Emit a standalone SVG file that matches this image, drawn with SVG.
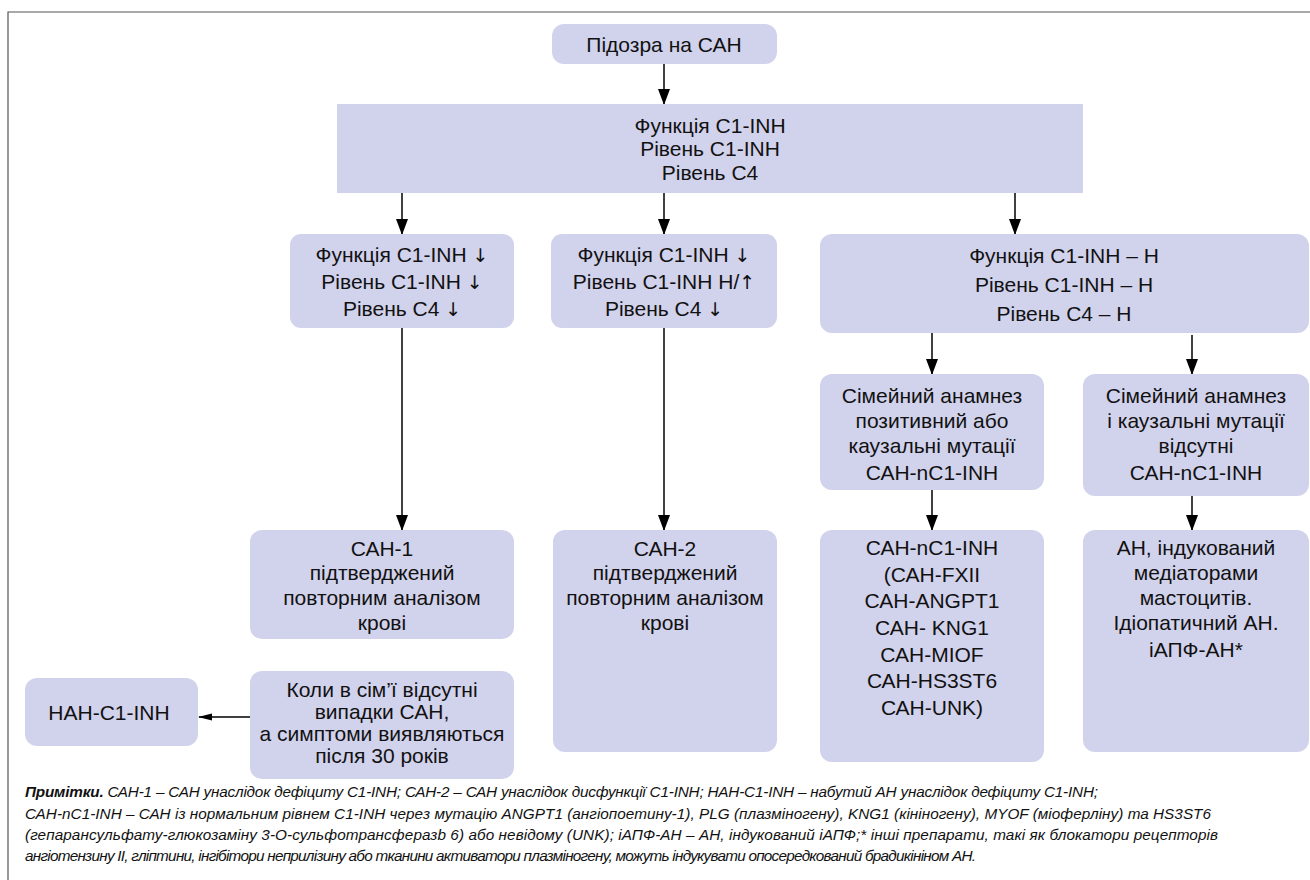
<svg xmlns="http://www.w3.org/2000/svg" width="1310" height="880" viewBox="0 0 1310 880">
<defs>
<style>
.box{fill:#D1D2EC;stroke:none}
.t{font-family:"Liberation Sans","Noto Sans",Arial,sans-serif;font-size:21px;fill:#111;text-anchor:middle}
.ar{font-family:"DejaVu Sans",sans-serif;font-size:19px;fill:#111}
.n{font-family:"Liberation Sans","Noto Sans",Arial,sans-serif;font-size:15.3px;font-style:italic;fill:#111}
.c{stroke:#000;stroke-width:1.5;fill:none}
</style>
<marker id="ah" markerUnits="userSpaceOnUse" markerWidth="16" markerHeight="12" refX="15" refY="6" orient="auto">
<path d="M0,0 L16,6 L0,12 z" fill="#000"/>
</marker>
<marker id="ahs" markerUnits="userSpaceOnUse" markerWidth="14" markerHeight="8" refX="13" refY="4" orient="auto">
<path d="M0,0.5 L14,4 L0,7.5 z" fill="#000"/>
</marker>
</defs>
<rect width="1310" height="880" fill="#fff"/>
<path d="M8,880 L8,12 L1310,12" fill="none" stroke="#555" stroke-width="1.2"/>

<g id="connectors">
<line class="c" x1="664" y1="64" x2="664" y2="104" marker-end="url(#ah)"/>
<line class="c" x1="402" y1="193" x2="402" y2="234" marker-end="url(#ah)"/>
<line class="c" x1="664" y1="193" x2="664" y2="234" marker-end="url(#ah)"/>
<line class="c" x1="1015" y1="193" x2="1015" y2="234" marker-end="url(#ah)"/>
<line class="c" x1="402" y1="328" x2="402" y2="530" marker-end="url(#ah)"/>
<line class="c" x1="664" y1="328" x2="664" y2="530" marker-end="url(#ah)"/>
<line class="c" x1="932" y1="333" x2="932" y2="374" marker-end="url(#ah)"/>
<line class="c" x1="1192" y1="335" x2="1192" y2="374" marker-end="url(#ah)"/>
<line class="c" x1="932" y1="490" x2="932" y2="530" marker-end="url(#ah)"/>
<line class="c" x1="1192" y1="496" x2="1192" y2="530" marker-end="url(#ah)"/>
<line class="c" x1="250" y1="717" x2="199" y2="717" marker-end="url(#ahs)"/>
</g>

<g id="start">
<rect class="box" x="552" y="24" width="225" height="40" rx="12"/>
<text class="t" x="664" y="52">Підозра на САН</text>
</g>

<g id="tests">
<rect class="box" x="337" y="104" width="746" height="89"/>
<text class="t" x="710" y="133">Функція C1-INH</text>
<text class="t" x="710" y="156">Рівень C1-INH</text>
<text class="t" x="710" y="180">Рівень C4</text>
</g>

<g id="low">
<rect class="box" x="290" y="234" width="224" height="94" rx="11"/>
<text class="t" x="402" y="262">Функція C1-INH <tspan class="ar">↓</tspan></text>
<text class="t" x="402" y="289">Рівень C1-INH <tspan class="ar">↓</tspan></text>
<text class="t" x="402" y="316">Рівень C4 <tspan class="ar">↓</tspan></text>
</g>

<g id="dysf">
<rect class="box" x="551" y="234" width="226" height="94" rx="11"/>
<text class="t" x="664" y="262">Функція C1-INH <tspan class="ar">↓</tspan></text>
<text class="t" x="664" y="289">Рівень C1-INH Н/<tspan class="ar">↑</tspan></text>
<text class="t" x="664" y="316">Рівень C4 <tspan class="ar">↓</tspan></text>
</g>

<g id="normal">
<rect class="box" x="820" y="234" width="489" height="99" rx="12"/>
<text class="t" x="1064" y="263">Функція C1-INH – Н</text>
<text class="t" x="1064" y="292">Рівень C1-INH – Н</text>
<text class="t" x="1064" y="321">Рівень C4 – Н</text>
</g>

<g id="fampos">
<rect class="box" x="820" y="374" width="224" height="116" rx="12"/>
<text class="t" x="932" y="403">Сімейний анамнез</text>
<text class="t" x="932" y="428">позитивний або</text>
<text class="t" x="932" y="453">каузальні мутації</text>
<text class="t" x="932" y="480">САН-nC1-INH</text>
</g>

<g id="famneg">
<rect class="box" x="1083" y="374" width="226" height="122" rx="12"/>
<text class="t" x="1196" y="403">Сімейний анамнез</text>
<text class="t" x="1196" y="428">і каузальні мутації</text>
<text class="t" x="1196" y="453">відсутні</text>
<text class="t" x="1196" y="480">САН-nC1-INH</text>
</g>

<g id="cah1">
<rect class="box" x="250" y="530" width="264" height="109" rx="12"/>
<text class="t" x="382" y="556">САН-1</text>
<text class="t" x="382" y="580">підтверджений</text>
<text class="t" x="382" y="605">повторним аналізом</text>
<text class="t" x="382" y="630">крові</text>
</g>

<g id="cah2">
<rect class="box" x="553" y="530" width="224" height="222" rx="12"/>
<text class="t" x="665" y="556">САН-2</text>
<text class="t" x="665" y="580">підтверджений</text>
<text class="t" x="665" y="605">повторним аналізом</text>
<text class="t" x="665" y="630">крові</text>
</g>

<g id="ncah">
<rect class="box" x="820" y="530" width="224" height="232" rx="12"/>
<text class="t" x="932" y="555">САН-nC1-INH</text>
<text class="t" x="932" y="582">(САН-FXII</text>
<text class="t" x="932" y="608">САН-ANGPT1</text>
<text class="t" x="932" y="635">САН- KNG1</text>
<text class="t" x="932" y="662">САН-MIOF</text>
<text class="t" x="932" y="688">САН-HS3ST6</text>
<text class="t" x="932" y="715">САН-UNK)</text>
</g>

<g id="mast">
<rect class="box" x="1083" y="530" width="226" height="222" rx="12"/>
<text class="t" x="1196" y="555">АН, індукований</text>
<text class="t" x="1196" y="580">медіаторами</text>
<text class="t" x="1196" y="605">мастоцитів.</text>
<text class="t" x="1196" y="630">Ідіопатичний АН.</text>
<text class="t" x="1196" y="657">іАПФ-АН*</text>
</g>

<g id="late">
<rect class="box" x="250" y="671" width="264" height="108" rx="12"/>
<text class="t" x="382" y="697">Коли в сім’ї відсутні</text>
<text class="t" x="382" y="719">випадки САН,</text>
<text class="t" x="382" y="741">а симптоми виявляються</text>
<text class="t" x="382" y="763">після 30 років</text>
</g>

<g id="acq">
<rect class="box" x="25" y="678" width="173" height="68" rx="12"/>
<text class="t" x="109" y="720">НАН-C1-INH</text>
</g>

<g id="notes">
<text class="n" x="25" y="797" textLength="1073" lengthAdjust="spacing"><tspan font-weight="bold">Примітки.</tspan> САН-1 – САН унаслідок дефіциту C1-INH; САН-2 – САН унаслідок дисфункції C1-INH; НАН-C1-INH – набутий АН унаслідок дефіциту C1-INH;</text>
<text class="n" x="25" y="819" textLength="1186" lengthAdjust="spacing">САН-nC1-INH – САН із нормальним рівнем C1-INH через мутацію ANGPT1 (ангіопоетину-1), PLG (плазміногену), KNG1 (кініногену), MYOF (міоферліну) та HS3ST6</text>
<text class="n" x="25" y="840" textLength="1193" lengthAdjust="spacing">(гепарансульфату-глюкозаміну 3-О-сульфотрансферазb 6) або невідому (UNK); іАПФ-АН – АН, індукований іАПФ;* інші препарати, такі як блокатори рецепторів</text>
<text class="n" x="25" y="861" textLength="951" lengthAdjust="spacing">ангіотензину II, гліптини, інгібітори неприлізину або тканини активатори плазміногену, можуть індукувати опосередкований брадикініном АН.</text>
</g>
</svg>
